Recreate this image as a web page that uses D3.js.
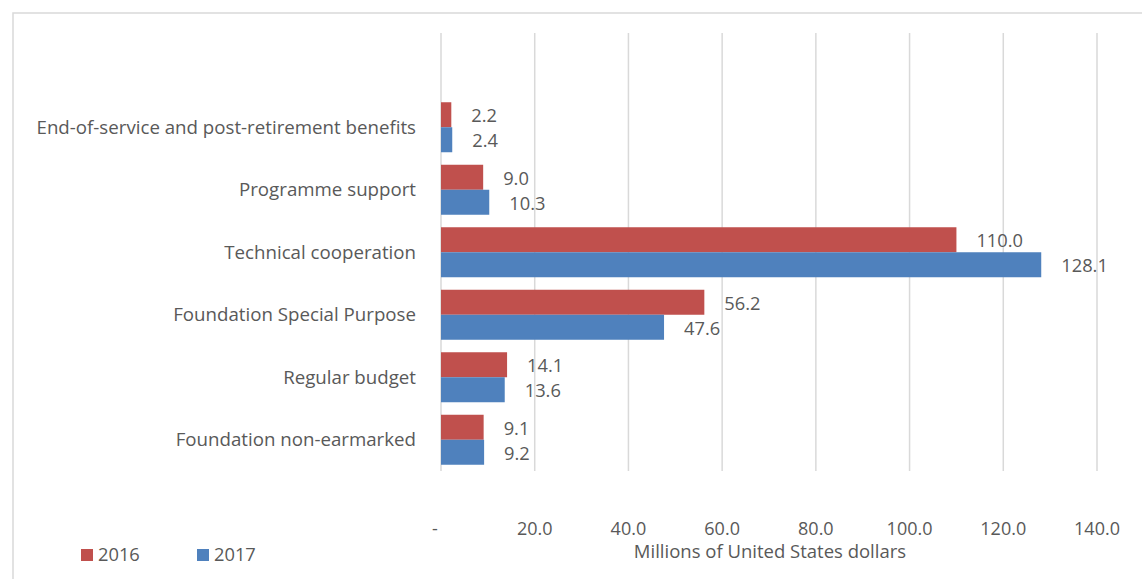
<!DOCTYPE html>
<html><head><meta charset="utf-8">
<script src="https://cdn.jsdelivr.net/npm/d3@7"></script>
<style>body{margin:0;background:#fff}svg{display:block}text{font-family:"Open Sans",sans-serif;fill:#595959}</style>
</head><body>
<svg id="c" width="1142" height="579"></svg>
<script>
const categories = ["End-of-service and post-retirement benefits","Programme support","Technical cooperation","Foundation Special Purpose","Regular budget","Foundation non-earmarked"];
const values2016 = [2.2, 9.0, 110.0, 56.2, 14.1, 9.1];
const values2017 = [2.4, 10.3, 128.1, 47.6, 13.6, 9.2];
const seriesNames = ["2016","2017"];
const tickValues = [0,20,40,60,80,100,120,140];
const colors = ["#C0504D","#4F81BD"];

const svg = d3.select("#c");
svg.append("rect").attr("x",13).attr("y",13).attr("width",1140).attr("height",580)
  .attr("fill","none").attr("stroke","#d9d9d9").attr("stroke-width",1.5);

const x = d3.scaleLinear().domain([0,140]).range([441,1097]);
const y = d3.scaleBand().domain(categories).range([96,471]).paddingInner(0.2).paddingOuter(0.1);
const sub = d3.scaleBand().domain(seriesNames).range([0,y.bandwidth()]);

svg.append("g").selectAll("line").data(tickValues).join("line")
  .attr("x1",d=>x(d)).attr("x2",d=>x(d)).attr("y1",33).attr("y2",471)
  .attr("stroke","#d9d9d9").attr("stroke-width",1.5);

svg.append("g").selectAll("text").data(tickValues).join("text")
  .attr("x",d=>d===0?x(d)-6:x(d)).attr("y",529).attr("dy","0.35em").attr("text-anchor","middle")
  .attr("font-size",18).text(d=>d===0?"-":d3.format(".1f")(d));

svg.append("g").selectAll("text").data(categories).join("text")
  .attr("x",416).attr("y",d=>y(d)+y.bandwidth()/2).attr("dy","0.35em")
  .attr("text-anchor","end").attr("font-size",18.7).text(d=>d);

const rows = [];
categories.forEach((c,i)=>{
  rows.push({c, s:"2016", v:values2016[i], col:colors[0]});
  rows.push({c, s:"2017", v:values2017[i], col:colors[1]});
});

svg.append("g").selectAll("rect").data(rows).join("rect")
  .attr("x",x(0)).attr("y",d=>y(d.c)+sub(d.s)).attr("width",d=>x(d.v)-x(0))
  .attr("height",sub.bandwidth()).attr("fill",d=>d.col);

svg.append("g").selectAll("text").data(rows).join("text")
  .attr("x",d=>x(d.v)+20).attr("y",d=>y(d.c)+sub(d.s)+sub.bandwidth()/2+1).attr("dy","0.35em")
  .attr("font-size",18.3).text(d=>d3.format(".1f")(d.v));

svg.append("text").attr("x",770).attr("y",552).attr("dy","0.35em").attr("text-anchor","middle")
  .attr("font-size",18.5).text("Millions of United States dollars");

const leg = svg.append("g").selectAll("g").data(seriesNames).join("g")
  .attr("transform",(d,i)=>`translate(${81+i*116},549)`);
leg.append("rect").attr("width",12).attr("height",12).attr("fill",(d,i)=>colors[i]);
leg.append("text").attr("x",17).attr("y",6).attr("dy","0.35em").attr("font-size",18.3).text(d=>d);
</script>
</body></html>
